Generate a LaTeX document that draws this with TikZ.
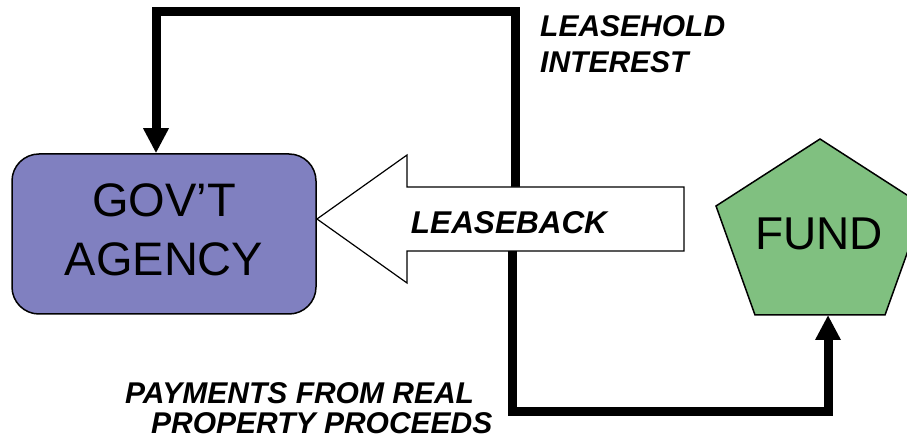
\documentclass[tikz,border=0pt]{standalone}
\usepackage{fontspec}
\setmainfont{Liberation Sans}
\usepackage{xcolor}
\usetikzlibrary{arrows.meta}
\definecolor{agencyfill}{HTML}{8080C0}
\definecolor{fundfill}{HTML}{80C080}

\begin{document}
\begin{tikzpicture}[
  x=1pt,
  y=-1pt,
  agencybox/.style={draw, line width=1.5pt, fill=agencyfill, rounded corners=27pt,
    minimum width=304pt, minimum height=160pt, inner sep=0pt, align=center,
    font=\fontsize{47}{59}\selectfont},
  fundshape/.style={draw, line width=1.5pt, fill=fundfill},
  fundlabel/.style={inner sep=0pt, font=\fontsize{46}{55}\selectfont},
  bigarrow/.style={draw, line width=1.2pt, fill=white},
  flow/.style={line width=9pt, -{Triangle[length=25pt,width=24pt]}},
  tag/.style={inner sep=0pt, align=left, font=\fontsize{30}{36}\selectfont\bfseries\itshape}
]
\useasboundingbox (0,0) rectangle (907,443);
\clip (0,0) rectangle (907,443);

% parties
\node[agencybox] (agency) at (164,234) {GOV'T\\AGENCY\rule[-8pt]{0pt}{8pt}};
\draw[fundshape] (820,139) -- (924,206) -- (885,315) -- (755,315) -- (716,206) -- cycle;
\node[fundlabel] (fund) at (819,233.5) {FUND};

% flows
\coordinate (split) at (514,219);
\coordinate (fundbase) at (828,315);
\draw[flow] ([xshift=1pt]split) -- ++(0,-207) -| ([xshift=-8pt]agency.north);
\draw[flow] ([xshift=-2pt]split) -- ++(0,192) -| (fundbase);

% leaseback arrow
\draw[bigarrow] (317,219) -- (407,155) -- (407,187) -- (684,187) -- (684,251)
  -- (407,251) -- (407,283) -- cycle;
\node[tag, font=\fontsize{31.5}{36}\selectfont\bfseries\itshape] (leaseback)
  at (509,222.5) {LEASEBACK};

% labels
\node[tag, anchor=north west] (leasehold) at (540,15) {LEASEHOLD\\INTEREST};
\node[tag, anchor=north west, font=\fontsize{30}{30}\selectfont\bfseries\itshape] (payments)
  at (125,382) {PAYMENTS FROM REAL\\\hspace*{26pt}PROPERTY PROCEEDS};
\end{tikzpicture}
\end{document}
